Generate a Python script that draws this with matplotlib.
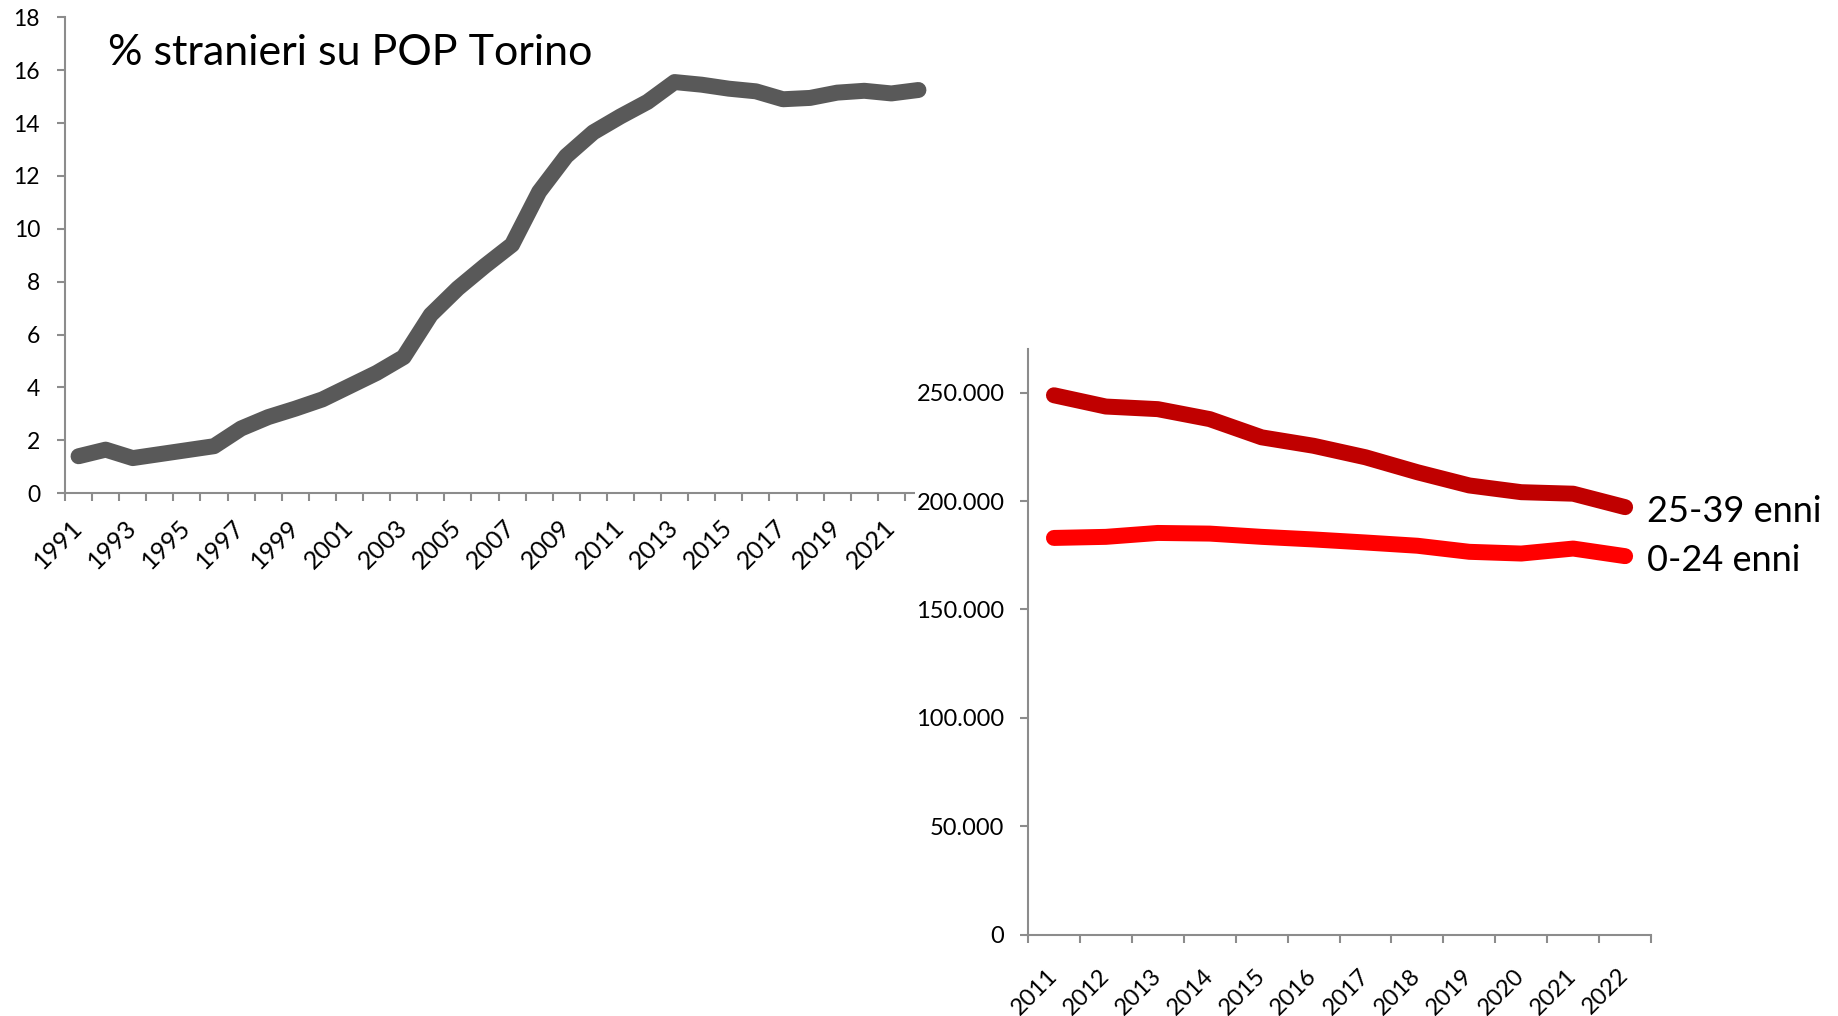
import numpy as np
import matplotlib
matplotlib.use("Agg")
import matplotlib.pyplot as plt

plt.rcParams['font.family'] = ['Lato', 'DejaVu Sans']

# % stranieri su popolazione Torino, 1991-2022
anni_stranieri = list(range(1991, 2023))
pct_stranieri = [1.40, 1.65, 1.33, 1.48, 1.63, 1.78, 2.45, 2.88, 3.20, 3.55,
                 4.05, 4.55, 5.15, 6.75, 7.75, 8.60, 9.40, 11.40, 12.75, 13.65,
                 14.25, 14.80, 15.55, 15.45, 15.30, 15.20, 14.90, 14.95, 15.15, 15.22,
                 15.12, 15.25]

# popolazione per classe d'età, 2011-2022
anni_eta = [str(a) for a in range(2011, 2023)]
pop_25_39 = [248800, 243600, 242400, 237800, 229400, 225500,
             220200, 213300, 207200, 204100, 203400, 197200]
pop_0_24 = [183000, 183500, 185300, 185000, 183500, 182300,
            180900, 179400, 176600, 175800, 178100, 174600]

AX_GREY = '#8c8c8c'

fig = plt.figure(figsize=(18.38, 10.16), dpi=100)

def style_axes(ax):
    for s in ['top', 'right']:
        ax.spines[s].set_visible(False)
    for s in ['left', 'bottom']:
        ax.spines[s].set_color(AX_GREY)
        ax.spines[s].set_linewidth(1.5)
    ax.tick_params(which='both', color=AX_GREY, width=1.5, length=6, direction='out')

# ---- left chart
ax1 = fig.add_axes([0.03537, 0.5145, 0.4717, 0.4685])
n1 = len(anni_stranieri)
x1 = np.arange(n1)
ax1.plot(x1, pct_stranieri, color='#595959', lw=11.5,
         solid_capstyle='round', solid_joinstyle='round')
ax1.set_xlim(-0.5, n1 - 0.5)
ax1.set_ylim(0, 18)
ax1.set_yticks(range(0, 19, 2))
style_axes(ax1)
ax1.tick_params(axis='y', labelsize=16.5, pad=12)
ax1.set_xticks(np.arange(-0.5, n1, 1))
ax1.set_xticklabels([])
ax1.set_xticks(x1[::2], minor=True)
ax1.set_xticklabels([str(a) for a in anni_stranieri[::2]], minor=True,
                    rotation=45, ha='right', va='center', rotation_mode='anchor')
ax1.tick_params(axis='x', which='minor', length=0, labelsize=18, pad=22)

fig.text(108 / 1838, 1 - 53 / 1016, '% stranieri su POP Torino',
         fontsize=31, va='center', ha='left')

# ---- right chart
ax2 = fig.add_axes([0.5593, 0.0800, 0.3390, 0.5762])
n2 = len(anni_eta)
x2 = np.arange(n2)
ax2.plot(x2, pop_25_39, color='#C00000', lw=11.5,
         solid_capstyle='round', solid_joinstyle='round')
ax2.plot(x2, pop_0_24, color='#FF0000', lw=11.5,
         solid_capstyle='round', solid_joinstyle='round')
ax2.set_xlim(-0.5, n2 - 0.5)
ax2.set_ylim(0, 270000)
ax2.set_yticks(range(0, 250001, 50000))
ax2.set_yticklabels(['0'] + ['{:,}'.format(v).replace(',', '.') for v in range(50000, 250001, 50000)])
style_axes(ax2)
ax2.tick_params(axis='y', labelsize=17, pad=11)
for lbl in ax2.get_yticklabels():
    lbl.set_bbox(dict(facecolor='white', edgecolor='none', pad=1))
ax2.set_xticks(np.arange(-0.5, n2, 1))
ax2.set_xticklabels([])
ax2.set_xticks(x2, minor=True)
ax2.set_xticklabels(anni_eta, minor=True, rotation=45, ha='right', va='center',
                    rotation_mode='anchor')
ax2.tick_params(axis='x', which='minor', length=0, labelsize=17, pad=27)

ax2.annotate('25-39 enni', (x2[-1], pop_25_39[-1]), xytext=(16, -3),
             textcoords='offset points', va='center', ha='left', fontsize=26,
             annotation_clip=False)
ax2.annotate('0-24 enni', (x2[-1], pop_0_24[-1]), xytext=(16, -3),
             textcoords='offset points', va='center', ha='left', fontsize=26,
             annotation_clip=False)

fig.savefig('out.png', dpi=100, facecolor='white')
